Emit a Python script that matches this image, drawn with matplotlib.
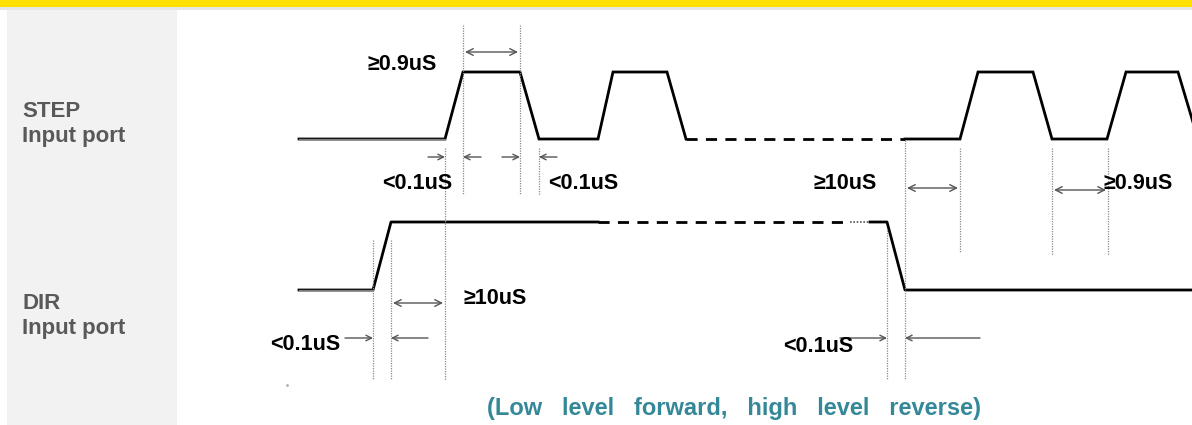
import matplotlib
matplotlib.use("Agg")
import matplotlib.pyplot as plt
from matplotlib.patches import Rectangle

plt.rcParams['font.family'] = ['Liberation Sans', 'DejaVu Sans']

# ---- data (time axis in drawing units, level 0 = low, 1 = high) ----
step_t1 = [299, 445, 463, 520, 539, 598, 613, 667, 686]
step_l1 = [0, 0, 1, 1, 0, 0, 1, 1, 0]
step_dash_t = [686, 905]
step_dash_l = [0, 0]
step_t2 = [905, 960, 978, 1033, 1052, 1107, 1126, 1178, 1198]
step_l2 = [0, 0, 1, 1, 0, 0, 1, 1, 0]

dir_t1 = [299, 373, 391, 598]
dir_l1 = [0, 0, 1, 1]
dir_dash_t = [598, 850]
dir_dot_t = [850, 870]
dir_t2 = [870, 887, 905, 1192]
dir_l2 = [1, 1, 0, 0]

# guide lines: x, y_top, y_bottom
guides_x = [445, 463, 520, 539, 373, 391, 887, 905, 960, 1052, 1108]
guides_top = [148, 25, 25, 148, 240, 240, 230, 140, 148, 148, 148]
guides_bot = [380, 195, 195, 195, 380, 380, 380, 380, 252, 255, 255]

step_low_y, step_high_y = 139, 72
dir_low_y, dir_high_y = 290, 222

labels_left = ["STEP\nInput port", "DIR\nInput port"]
caption_words = ["(Low", "level", "forward,", "high", "level", "reverse)"]

W, H = 1192, 425
fig = plt.figure(figsize=(W / 100, H / 100), dpi=100)
ax = fig.add_axes([0, 0, 1, 1])
ax.set_xlim(0, W)
ax.set_ylim(H, 0)
ax.axis('off')

# header bars and left panel
ax.add_patch(Rectangle((0, 0), W, 7, color='#FFE000', lw=0))
ax.add_patch(Rectangle((0, 7), W, 3, color='#E6E6E6', lw=0))
ax.add_patch(Rectangle((7, 10), 170, H - 10, color='#F2F2F2', lw=0))

def ys(levels, lo, hi):
    return [lo + (hi - lo) * l for l in levels]

lw = 2.0
ax.plot(step_t1, ys(step_l1, step_low_y, step_high_y), color='black', lw=lw, solid_joinstyle='miter')
ax.plot(step_dash_t, ys(step_dash_l, step_low_y, step_high_y), color='black', lw=lw, ls=(0, (4, 3)))
ax.plot(step_t2, ys(step_l2, step_low_y, step_high_y), color='black', lw=lw, solid_joinstyle='miter')
ax.plot([299, 445], [step_low_y] * 2, color='#7a7a7a', lw=1.0)

ax.plot(dir_t1, ys(dir_l1, dir_low_y, dir_high_y), color='black', lw=lw)
ax.plot([299, 373], [dir_low_y] * 2, color='#7a7a7a', lw=1.0)
ax.plot(dir_dash_t, [dir_high_y] * 2, color='black', lw=lw, ls=(0, (4, 3)))
ax.plot(dir_dot_t, [dir_high_y] * 2, color='#555555', lw=1.2, ls=(0, (1, 1)))
ax.plot(dir_t2, ys(dir_l2, dir_low_y, dir_high_y), color='black', lw=lw)

for x, t, b in zip(guides_x, guides_top, guides_bot):
    ax.plot([x, x], [t, b], color='#8a8a8a', lw=0.9, ls=(0, (1, 1)))

arrow_col = '#555555'

def darrow(x0, x1, y):
    ax.annotate('', xy=(x1, y), xytext=(x0, y),
                arrowprops=dict(arrowstyle='<->', color=arrow_col, lw=1.0,
                                shrinkA=0, shrinkB=0, mutation_scale=12))

def arrow(x0, x1, y):
    ax.annotate('', xy=(x1, y), xytext=(x0, y),
                arrowprops=dict(arrowstyle='->', color=arrow_col, lw=1.0,
                                shrinkA=0, shrinkB=0, mutation_scale=10))

darrow(465, 518, 52)
arrow(428, 445, 157); arrow(481, 463, 157)
arrow(502, 520, 157); arrow(557, 539, 157)
darrow(907, 958, 188)
darrow(1054, 1106, 190)
darrow(393, 443, 303)
arrow(345, 373, 338); arrow(428, 391, 338)
arrow(840, 887, 338); arrow(980, 905, 338)

tk = dict(fontsize=15.5, fontweight='bold', color='black', va='center')
ax.text(368, 64, "≥0.9uS", **tk)
ax.text(382, 183, "<0.1uS", **tk)
ax.text(548, 183, "<0.1uS", **tk)
ax.text(813, 183, "≥10uS", **tk)
ax.text(1104, 183, "≥0.9uS", **tk)
ax.text(463, 298, "≥10uS", **tk)
ax.text(270, 345, "<0.1uS", **tk)
ax.text(783, 347, "<0.1uS", **tk)

lk = dict(fontsize=16, fontweight='bold', color='#595959', va='center', linespacing=1.3)
ax.text(22, 124, labels_left[0], **lk)
ax.text(22, 316, labels_left[1], **lk)

ax.text(734, 409, "   ".join(caption_words), fontsize=17, fontweight='bold',
        color='#358898', ha='center', va='center')
ax.plot([287], [385], marker='.', color='#b0b0b0', ms=2)

fig.savefig('out.png', dpi=100)
